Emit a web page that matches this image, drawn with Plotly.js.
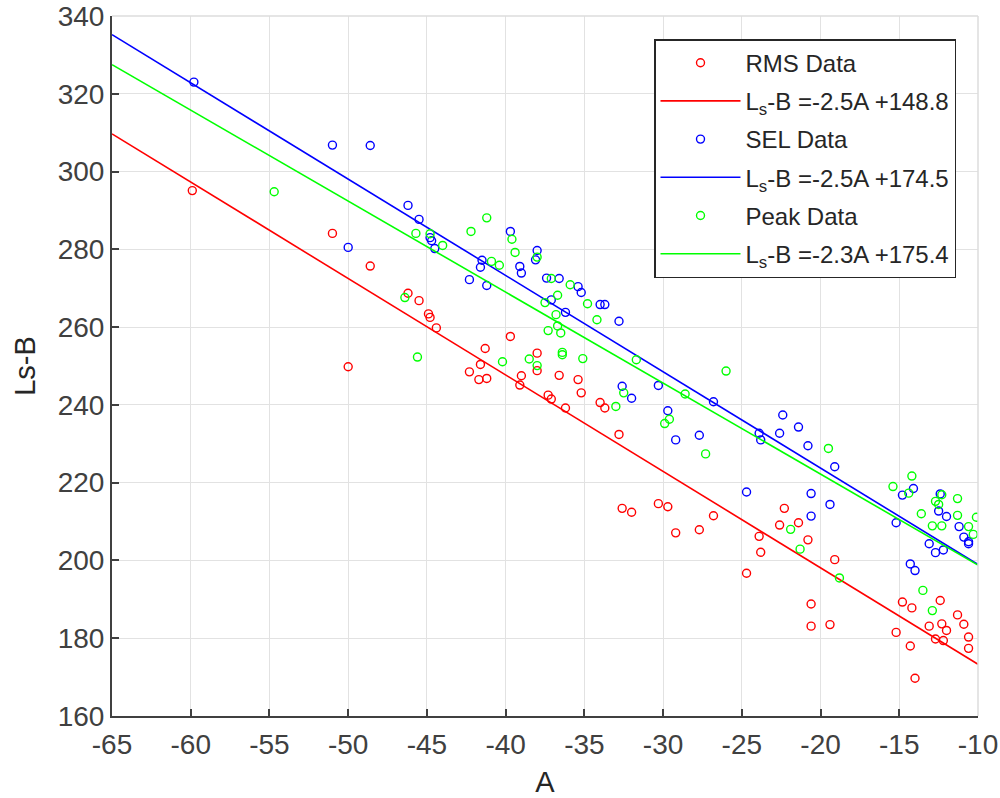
<!DOCTYPE html>
<html>
<head>
<meta charset="utf-8">
<script src="https://cdn.plot.ly/plotly-3.0.1.min.js"></script>
<style>html,body{margin:0;padding:0;background:#fff;}#chart{width:1000px;height:798px;}</style>
</head>
<body>
<div id="chart"></div>
<script>
// RMS data
const rmsA = [-59.9,-51.0,-50.0,-48.6,-46.2,-45.5,-44.9,-44.8,-44.4,-42.3,-41.7,-41.2,-41.6,-41.3,-39.7,-39.0,-39.1,-38.0,-38.0,-37.3,-37.1,-36.6,-36.2,-35.4,-35.2,-34.0,-33.7,-32.8,-32.6,-32.0,-30.3,-29.7,-29.2,-27.7,-26.8,-24.7,-23.9,-23.8,-22.6,-22.3,-21.4,-20.8,-20.6,-20.6,-19.4,-19.1,-15.2,-14.8,-14.3,-14.2,-14.0,-13.1,-12.7,-12.4,-12.3,-12.2,-12.0,-11.3,-10.9,-10.6,-10.6];
const rmsY = [295.1,284.1,249.8,275.7,268.7,266.8,263.4,262.5,259.8,248.5,246.5,246.8,250.4,254.5,257.6,247.5,245.1,253.3,248.8,242.5,241.5,247.6,239.2,246.5,243.1,240.6,239.2,232.4,213.4,212.4,214.6,213.8,207.1,207.9,211.5,196.7,206.2,202.1,209.1,213.4,209.7,205.3,188.8,183.1,183.5,200.2,181.5,189.3,178.0,187.8,169.7,183.1,179.8,189.7,183.7,179.4,182.0,186.0,183.6,180.3,177.4];
// SEL data
const selA = [-59.8,-51.0,-48.6,-50.0,-46.2,-45.5,-44.8,-44.7,-44.5,-42.3,-41.5,-41.6,-41.2,-39.7,-39.1,-39.0,-38.0,-38.1,-37.4,-37.1,-36.6,-36.2,-35.4,-35.2,-34.0,-33.7,-32.8,-32.6,-32.0,-30.3,-29.7,-29.2,-27.7,-26.8,-24.7,-23.9,-23.8,-22.6,-22.4,-21.4,-20.8,-20.6,-20.6,-19.4,-19.1,-15.2,-14.8,-14.3,-14.1,-14.0,-13.1,-12.7,-12.5,-12.4,-12.2,-12.0,-11.2,-10.9,-10.6,-10.6];
const selY = [323.0,306.8,306.7,280.5,291.3,287.7,283.0,282.2,280.2,272.2,277.2,275.4,270.7,284.6,275.6,273.9,279.7,277.3,272.6,267.0,272.5,263.8,270.4,268.9,265.8,265.8,261.5,244.8,241.7,245.0,238.5,231.0,232.2,240.8,217.6,232.7,231.0,232.7,237.4,234.3,229.5,217.2,211.4,214.4,224.1,209.7,216.8,199.1,218.5,197.4,204.3,202.0,212.7,217.1,202.7,211.3,208.7,206.0,204.8,204.3];
// Peak data
const peakA = [-54.7,-46.4,-45.7,-45.6,-44.8,-44.0,-42.2,-41.2,-40.9,-40.4,-40.2,-39.6,-39.4,-38.5,-38.0,-38.0,-37.5,-37.3,-37.1,-36.8,-36.7,-36.7,-36.5,-36.4,-36.4,-35.9,-35.1,-34.8,-34.2,-33.0,-32.5,-31.7,-29.6,-29.9,-28.6,-27.3,-26.0,-21.9,-21.3,-19.5,-18.8,-15.4,-14.4,-14.2,-13.6,-13.5,-12.9,-12.9,-12.7,-12.5,-12.3,-12.3,-11.3,-11.3,-10.6,-10.3,-10.1];
const peakY = [294.8,267.6,284.1,252.3,284.0,281.0,284.6,288.1,276.9,275.9,251.1,282.6,279.2,251.8,278.0,250.1,266.3,259.1,272.5,263.2,268.2,260.3,258.5,253.5,252.9,270.9,251.9,266.0,261.9,239.6,243.1,251.6,236.3,235.2,242.8,227.4,248.7,208.0,202.9,228.8,195.5,219.0,217.3,221.7,212.0,192.3,208.9,187.1,215.2,214.4,216.9,208.9,215.9,211.6,208.7,206.7,211.1];
// fitted lines (slope, intercept as drawn)
const fitA = [-65, -10];
const rmsFit = {slope: -2.48, intercept: 148.5};
const selFit = {slope: -2.477, intercept: 174.2};
const peakFit = {slope: -2.34, intercept: 175.4};
const legendNames = ['RMS Data', 'L<sub>s</sub>-B =-2.5A +148.8', 'SEL Data', 'L<sub>s</sub>-B =-2.5A +174.5', 'Peak Data', 'L<sub>s</sub>-B =-2.3A +175.4'];
const xTicks = [-65,-60,-55,-50,-45,-40,-35,-30,-25,-20,-15,-10];
const yTicks = [160,180,200,220,240,260,280,300,320,340];

const colors = ['#ff0000', '#0000ff', '#00ff00'];
function fitY(f){ return fitA.map(a => f.slope * a + f.intercept); }
function pts(x, y, name, c, g){
  return {x: x, y: y, type: 'scatter', mode: 'markers', name: name, legendgroup: g,
    marker: {symbol: 'circle-open', size: 8, color: c, line: {width: 1.4, color: c}}};
}
function ln(f, name, c, g){
  return {x: fitA, y: fitY(f), type: 'scatter', mode: 'lines', name: name, legendgroup: g,
    line: {color: c, width: 1.6}};
}
const data = [
  pts(rmsA, rmsY, legendNames[0], colors[0], 'g1'), ln(rmsFit, legendNames[1], colors[0], 'g2'),
  pts(selA, selY, legendNames[2], colors[1], 'g3'), ln(selFit, legendNames[3], colors[1], 'g4'),
  pts(peakA, peakY, legendNames[4], colors[2], 'g5'), ln(peakFit, legendNames[5], colors[2], 'g6')
];
const fontFam = "'Liberation Sans', Arial, Helvetica, sans-serif";
const layout = {
  width: 1000, height: 798,
  margin: {l: 112, r: 22, t: 16, b: 82},
  paper_bgcolor: '#ffffff', plot_bgcolor: '#ffffff',
  font: {family: fontFam, size: 24, color: '#404040'},
  showlegend: true,
  legend: {x: 0.9746, xanchor: 'right', y: 0.967, yanchor: 'top',
    bgcolor: '#ffffff', bordercolor: '#262626', borderwidth: 1.5,
    font: {family: fontFam, size: 24, color: '#262626'},
    itemwidth: 80, tracegroupgap: 4, traceorder: 'grouped'},
  xaxis: {range: [-65, -10], tickvals: xTicks, ticktext: xTicks.map(String),
    showgrid: true, gridcolor: '#e2e2e2', gridwidth: 1,
    showline: true, linecolor: '#404040', linewidth: 2, mirror: false,
    ticks: 'inside', ticklen: 7, tickwidth: 2, tickcolor: '#404040',
    zeroline: false, tickfont: {family: fontFam, size: 28, color: '#404040'},
    ticklabelstandoff: 2,
    title: {text: 'A', font: {family: fontFam, size: 29, color: '#262626'}, standoff: 14}},
  yaxis: {range: [160, 340], tickvals: yTicks, ticktext: yTicks.map(String),
    showgrid: true, gridcolor: '#e2e2e2', gridwidth: 1,
    showline: true, linecolor: '#404040', linewidth: 2, mirror: false,
    ticks: 'inside', ticklen: 7, tickwidth: 2, tickcolor: '#404040',
    zeroline: false, tickfont: {family: fontFam, size: 28, color: '#404040'},
    title: {text: 'Ls-B', font: {family: fontFam, size: 29, color: '#262626'}, standoff: 14}},
  shapes: [
    {type: 'line', xref: 'paper', yref: 'paper', x0: 0, x1: 1, y0: 1, y1: 1, line: {color: '#dcdcdc', width: 1.5}},
    {type: 'line', xref: 'paper', yref: 'paper', x0: 1, x1: 1, y0: 0, y1: 1, line: {color: '#dcdcdc', width: 1.5}}
  ]
};
Plotly.newPlot('chart', data, layout, {displayModeBar: false, staticPlot: true});
</script>
</body>
</html>
